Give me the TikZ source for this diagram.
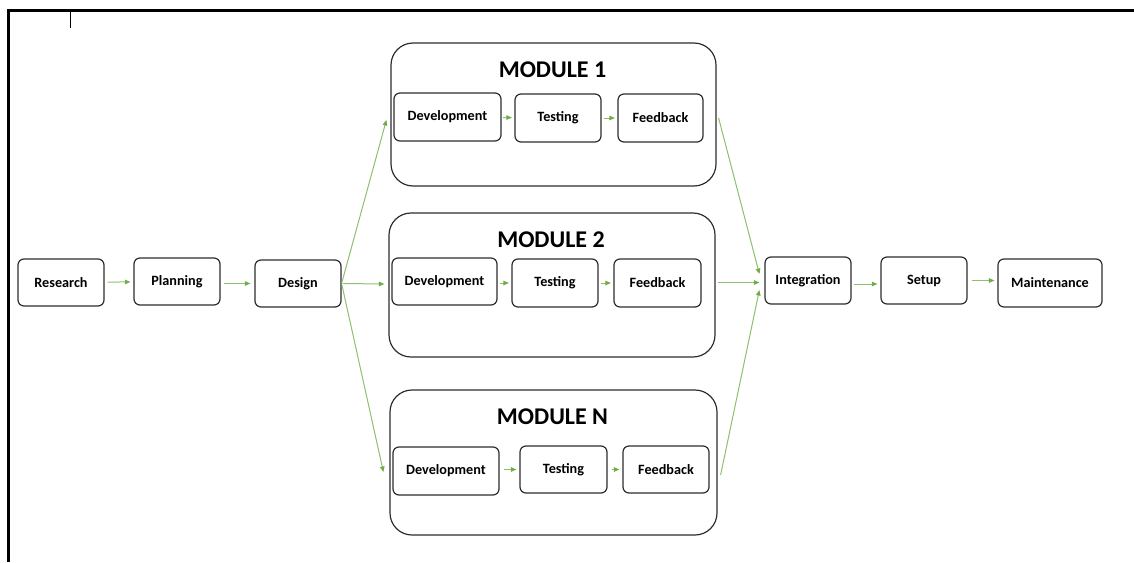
\documentclass[tikz,border=0pt]{standalone}
\usepackage{fontspec}
\setmainfont{Carlito}
\usetikzlibrary{arrows.meta,calc}

\definecolor{flowline}{RGB}{140,192,108}
\definecolor{flowtip}{RGB}{112,173,71}
\definecolor{boxline}{RGB}{45,45,45}

\tikzset{
  stepbox/.style={draw=boxline, line width=1.2pt, rounded corners=6pt,
    minimum width=86pt, minimum height=47pt, inner sep=0pt,
    font=\fontsize{14.2}{16}\selectfont\bfseries},
  modbox/.style={draw=boxline, line width=1.2pt, rounded corners=22pt,
    inner sep=0pt},
  modtitle/.style={inner sep=0pt, font=\fontsize{24}{27}\selectfont\bfseries},
  flow/.style={draw=flowline, line width=1pt,
    -{Triangle[length=5.5pt,width=4.5pt,color=flowtip]}},
  frameline/.style={line width=3pt, black},
}

\begin{document}
\begin{tikzpicture}[x=1pt, y=-1pt]
\useasboundingbox (0,0) rectangle (1134,562);

% page frame
\draw[frameline] (1134,10.5) -- (8.5,10.5) -- (8.5,562);
\draw[line width=1pt] (70,11) -- (70,28);

% main line, left part
\node[stepbox] (research) at (61,282.5) {Research};
\node[stepbox] (planning) at (177,281.5) {Planning};
\node[stepbox] (design)   at (298,283.5) {Design};

% module containers
\node[modbox, minimum width=325pt, minimum height=143pt] (mod1) at (553.5,114.5) {};
\node[modbox, minimum width=326pt, minimum height=144pt] (mod2) at (552,285) {};
\node[modbox, minimum width=327pt, minimum height=145pt] (modn) at (553.5,462.5) {};

\node[modtitle] (t1) at (552.5,70)  {MODULE 1};
\node[modtitle] (t2) at (551,240)   {MODULE 2};
\node[modtitle] (tn) at (552.5,417) {MODULE N};

% module 1
\node[stepbox, minimum width=107pt, minimum height=48pt] (dev1)  at (447.5,117) {Development};
\node[stepbox, minimum height=48pt] (test1) at (558,118)   {Testing};
\node[stepbox, minimum width=85pt, minimum height=48pt] (feed1) at (660.5,118) {Feedback};

% module 2
\node[stepbox, minimum width=105pt] (dev2)  at (444.5,281.5) {Development};
\node[stepbox, minimum height=48pt] (test2) at (555,283)   {Testing};
\node[stepbox, minimum width=87pt, minimum height=48pt] (feed2) at (657.5,283) {Feedback};

% module N
\node[stepbox, minimum width=106pt, minimum height=48pt] (devn)  at (446,471) {Development};
\node[stepbox, minimum width=87pt] (testn) at (563.5,469.5) {Testing};
\node[stepbox] (feedn) at (666,469.5) {Feedback};

% main line, right part
\node[stepbox] (integ) at (808,280.5) {Integration};
\node[stepbox] (setup) at (924,280.5) {Setup};
\node[stepbox, minimum width=104pt, minimum height=48pt] (maint) at (1050,283) {Maintenance};

% connector ends
\coordinate (m1in)  at ($(mod1.west |- dev1.center)+(-4,3)$);
\coordinate (m2in)  at ($(mod2.west |- dev2.center)+(-4,2.5)$);
\coordinate (mnin)  at ($(modn.west |- devn.center)+(-6,1)$);
\coordinate (m1out) at ($(mod1.east |- feed1.center)+(2,0)$);
\coordinate (m2out) at ($(mod2.east |- feed2.center)+(2,0)$);
\coordinate (mnout) at ($(modn.east |- feedn.center)+(3,5.5)$);
\coordinate (i1) at ($(integ.west)+(-5,-6.5)$);
\coordinate (i2) at ($(integ.west)+(-5,2)$);
\coordinate (i3) at ($(integ.west)+(-5,9.5)$);

% connectors
\draw[flow, shorten <=3pt, shorten >=3pt] (research) -- (planning);
\draw[flow, shorten <=3pt, shorten >=4pt] (planning.east |- design) -- (design);
\draw[flow, shorten <=1pt] (design.east) -- (m1in);
\draw[flow, shorten <=1pt] (design.east) -- (m2in);
\draw[flow, shorten <=1pt] (design.east) -- (mnin);

\draw[flow, shorten <=1.5pt, shorten >=2.5pt] (dev1) -- (test1);
\draw[flow, shorten <=2.5pt, shorten >=2.5pt] (test1) -- (feed1);
\draw[flow, shorten <=2.5pt, shorten >=2.5pt] (dev2.east |- test2) -- (test2);
\draw[flow, shorten <=2.5pt, shorten >=2.5pt] (test2) -- (feed2);
\draw[flow, shorten <=4pt, shorten >=3pt] (devn.east |- testn) -- (testn);
\draw[flow, shorten <=4pt, shorten >=3pt] (testn) -- (feedn);

\draw[flow] (m1out) -- (i1);
\draw[flow] (m2out |- i2) -- (i2);
\draw[flow] (mnout) -- (i3);

\draw[flow, shorten <=2pt, shorten >=3pt] (integ.east |- 0,284) -- (setup.west |- 0,284);
\draw[flow, shorten <=4pt, shorten >=3pt] (setup) -- (maint.west |- setup);
\end{tikzpicture}
\end{document}
